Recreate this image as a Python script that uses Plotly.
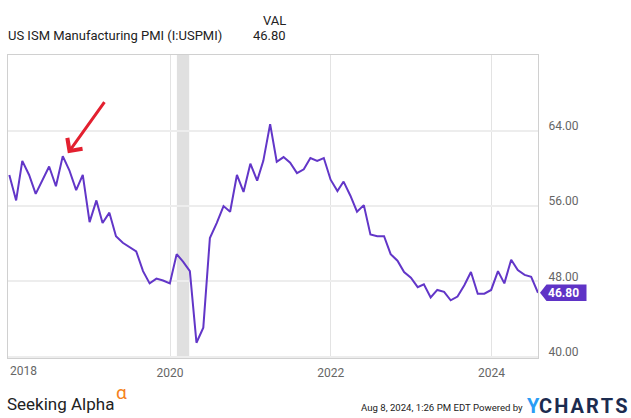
import pandas as pd
import plotly.graph_objects as go

# ---- data (monthly, Dec 2017 .. Jul 2024) ----
pmi = [
    59.3,
    56.6, 60.8, 59.3, 57.3, 58.7, 60.2, 58.1, 61.3, 59.8, 57.7, 59.3, 54.3,
    56.6, 54.2, 55.3, 52.8, 52.1, 51.7, 51.2, 49.1, 47.8, 48.3, 48.1, 47.8,
    50.9, 50.1, 49.1, 41.5, 43.1, 52.6, 54.2, 56.0, 55.4, 59.3, 57.5, 60.5,
    58.7, 60.8, 64.7, 60.7, 61.2, 60.6, 59.5, 59.9, 61.1, 60.8, 61.1, 58.8,
    57.6, 58.6, 57.1, 55.4, 56.1, 53.0, 52.8, 52.8, 50.9, 50.2, 49.0, 48.4,
    47.4, 47.7, 46.3, 47.1, 46.9, 46.0, 46.4, 47.6, 49.0, 46.7, 46.7, 47.1,
    49.1, 47.8, 50.3, 49.2, 48.7, 48.5, 46.8,
]
dates = pd.date_range("2017-12-31", periods=len(pmi), freq="ME")

x_tick_vals = ["2020-01-01", "2022-01-01", "2024-01-01"]
x_tick_text = ["2020", "2022", "2024"]
first_year_label = "2018"
y_tick_vals = [40, 48, 56, 64]
y_tick_text = [f"{v:.2f}" for v in y_tick_vals]
recession = ("2020-02-01", "2020-03-28")

series_name = "US ISM Manufacturing PMI (I:USPMI)"
last_val = pmi[-1]

LINE = "#6236c8"
FONT = "Roboto, sans-serif"

fig = go.Figure()
fig.add_trace(go.Scatter(
    x=dates, y=pmi, mode="lines",
    line=dict(color=LINE, width=2),
    hoverinfo="skip", showlegend=False,
))

# recession band
fig.add_shape(type="rect", xref="x", yref="paper",
              x0=recession[0], x1=recession[1], y0=0, y1=1,
              fillcolor="#e0e0e0", line=dict(width=0), layer="between")

# last value tag
fig.add_shape(type="path", xref="paper", yref="y",
              xsizemode="pixel", ysizemode="pixel",
              xanchor=1, yanchor=last_val,
              path="M2,0 L8.5,8.3 L48.5,8.3 L48.5,-8.3 L8.5,-8.3 Z",
              fillcolor="#5f33c6", line=dict(width=0), layer="above")

annotations = [
    dict(x=1, xref="paper", y=last_val, yref="y", xanchor="left", yanchor="middle",
         xshift=8, text=f"<b>{last_val:.2f}</b>", showarrow=False,
         font=dict(family=FONT, size=12, color="white")),
    # header
    dict(x=0, xref="paper", y=1.0636, yref="paper", xanchor="left", yanchor="middle",
         xshift=-2, text=series_name, showarrow=False,
         font=dict(family=FONT, size=13, color="#222")),
    dict(x=0.529, xref="paper", y=1.113, yref="paper", xanchor="right", yanchor="middle",
         text="VAL", showarrow=False, font=dict(family=FONT, size=13, color="#222")),
    dict(x=0.529, xref="paper", y=1.0636, yref="paper", xanchor="right", yanchor="middle",
         text=f"{last_val:.2f}", showarrow=False, font=dict(family=FONT, size=13, color="#222")),
    # first year label
    dict(x=0, xref="paper", y=-0.043, yref="paper", xanchor="left", yanchor="middle",
         text=first_year_label, showarrow=False, font=dict(family=FONT, size=12, color="#666")),
    # red arrow
    dict(x="2018-09-23", xref="x", y=61.6, yref="y", ax=37.7, ay=-52.6,
         text="", showarrow=True, arrowhead=4, arrowsize=1.2, arrowwidth=3,
         arrowcolor="#e3202f", standoff=0),
    # footer
    dict(x=0, xref="paper", y=-0.1507, yref="paper", xanchor="left", yanchor="middle",
         xshift=-3, text="Seeking Alpha", showarrow=False,
         font=dict(family=FONT, size=17, color="#222")),
    dict(x=0.2004, xref="paper", y=-0.1130, yref="paper", xanchor="left", yanchor="middle",
         text="α", showarrow=False, font=dict(family=FONT, size=19, color="#f58220")),
    dict(x=0.976, xref="paper", y=-0.1639, yref="paper", xanchor="right", yanchor="middle",
         text="Aug 8, 2024, 1:26 PM EDT Powered by", showarrow=False,
         font=dict(family=FONT, size=9.6, color="#222")),
    dict(x=0.9787, xref="paper", y=-0.158, yref="paper", xanchor="left", yanchor="middle",
         xshift=-2,
         text="<b><span style='color:#2a9df4'>Y</span><span style='color:#1c2b4f'>C&#8202;H&#8202;A&#8202;R&#8202;T&#8202;S</span></b>",
         showarrow=False, font=dict(family=FONT, size=20)),
]

fig.update_layout(
    width=631, height=418,
    margin=dict(l=8, r=93, t=55, b=60),
    paper_bgcolor="white", plot_bgcolor="white",
    font=dict(family=FONT),
    annotations=annotations,
    xaxis=dict(
        type="date", range=["2017-12-25", "2024-07-31"],
        tickvals=x_tick_vals, ticktext=x_tick_text,
        showgrid=True, gridcolor="#e3e3e3", gridwidth=1,
        zeroline=False, showline=True, linecolor="#d0d0d0", linewidth=1, mirror=True,
        ticks="", ticklabelstandoff=4,
        tickfont=dict(family=FONT, size=12, color="#666"),
    ),
    yaxis=dict(
        side="right", range=[39.88, 72.03],
        tickvals=y_tick_vals, ticktext=y_tick_text,
        showgrid=True, gridcolor="#ededed", gridwidth=2,
        zeroline=False, showline=True, linecolor="#d0d0d0", linewidth=1, mirror=True,
        ticks="", ticklabelstandoff=7, ticklabelshift=-5,
        tickfont=dict(family=FONT, size=12, color="#666"),
    ),
)

fig.write_html("out.html")
